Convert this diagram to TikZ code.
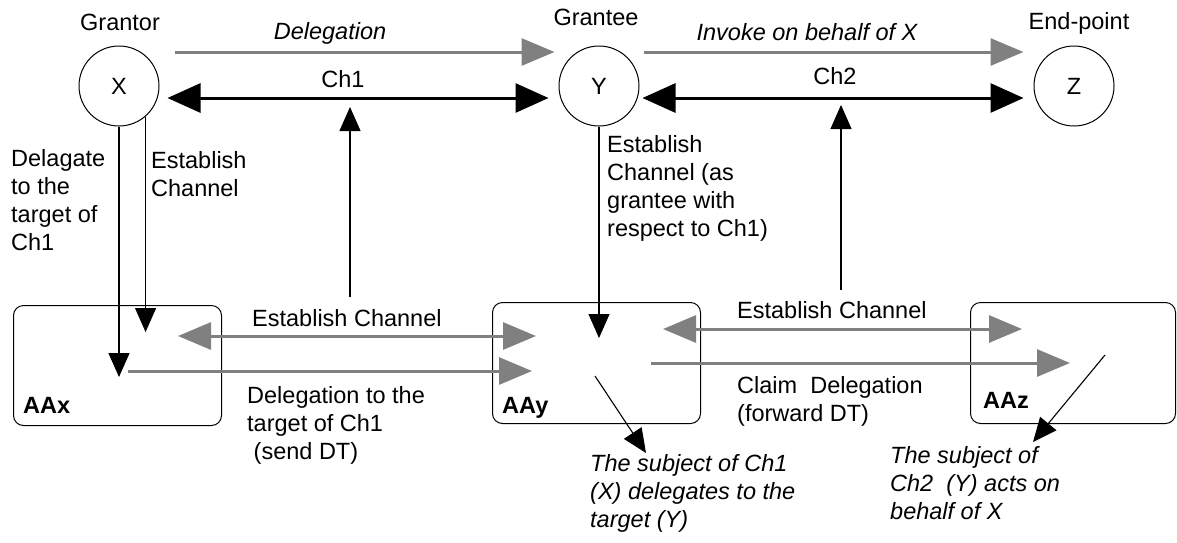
\documentclass[tikz,border=0pt]{standalone}
\usepackage{fontspec}
\setmainfont{Liberation Sans}
\usetikzlibrary{arrows.meta}
\definecolor{flowgray}{RGB}{128,128,128}

\tikzset{
  every node/.style={font=\fontsize{23.5}{28}\selectfont, inner sep=0pt},
  party/.style={circle, draw, line width=1pt, minimum size=80pt},
  aabox/.style={draw, line width=1pt, rounded corners=10pt, anchor=north west},
  txt/.style={anchor=base west, align=left},
  ctxt/.style={anchor=base},
  itxt/.style={font=\fontsize{23.5}{28}\selectfont\itshape},
  btxt/.style={font=\fontsize{23.5}{28}\selectfont\bfseries},
  grayflow/.style={draw=flowgray, line width=3pt, -{Triangle[length=33pt,width=27pt]}},
  graytwo/.style={draw=flowgray, line width=3pt, {Triangle[length=33pt,width=27pt]}-{Triangle[length=33pt,width=27pt]}},
  chanline/.style={draw=black, line width=3pt, {Triangle[length=33pt,width=29pt]}-{Triangle[length=33pt,width=29pt]}},
  thinflow/.style={draw=black, line width=1.1pt, -{Triangle[length=24pt,width=21pt]}}
}

\begin{document}
\begin{tikzpicture}[x=1pt, y=-1pt]
  \useasboundingbox (0,0) rectangle (1177,542);

  % parties
  \node[party] (X) at (119,86) {X};
  \node[party] (Y) at (599,86) {Y};
  \node[party] (Z) at (1074,86) {Z};
  \node[ctxt] (grantor) at (120,30) {Grantor};
  \node[ctxt] (grantee) at (596,25) {Grantee};
  \node[ctxt] (endpoint) at (1079,29) {End-point};

  % authorization agents
  \node[aabox, minimum width=208pt, minimum height=120pt] (AAx) at (13,305) {};
  \node[aabox, minimum width=208pt, minimum height=121pt] (AAy) at (492,302) {};
  \node[aabox, minimum width=205pt, minimum height=121pt] (AAz) at (970,302) {};
  \node[txt, btxt] (lx) at (23,413) {AAx};
  \node[txt, btxt] (ly) at (502,413) {AAy};
  \node[txt, btxt] (lz) at (983,408) {AAz};

  % top level flows
  \draw[grayflow] ([shift={(15,-34)}]X.east) -- ([shift={(-4,-34)}]Y.west);
  \draw[grayflow] ([shift={(4,-34)}]Y.east) -- ([shift={(-10,-34)}]Z.west);
  \draw[chanline] ([shift={(8,12)}]X.east) -- ([shift={(-10,12)}]Y.west);
  \draw[chanline] ([shift={(3,12)}]Y.east) -- ([shift={(-10,12)}]Z.west);
  \node[ctxt, itxt] (tdel) at (330,39) {Delegation};
  \node[ctxt, itxt] (tinv) at (807,40) {Invoke on behalf of X};
  \node[ctxt] (tch1) at (343,87) {Ch1};
  \node[ctxt] (tch2) at (835,84) {Ch2};

  % channel establishment feeding the channels
  \coordinate (e1) at (350,297);
  \coordinate (c1) at (350,107);
  \coordinate (e2) at (841,290);
  \coordinate (c2) at (841,105);
  \draw[thinflow] (e1) -- (c1);
  \draw[thinflow] (e2) -- (c2);

  % grantor to its agent (multi-line texts are placed by their last baseline)
  \coordinate (xd) at (119,377);
  \coordinate (xe) at (145,332);
  \draw[thinflow] (X.south) -- (xd);
  \draw[thinflow] (X.-49.5) -- (X.-49.5 |- xe);
  \node[txt] (tdelag) at (11,250) {Delagate\\to the\\target of\\Ch1};
  \node[txt] (testx) at (151,196) {Establish\\Channel};

  % grantee to its agent
  \coordinate (yd) at (599,338);
  \draw[thinflow] (Y.south) -- (yd);
  \node[txt] (testy) at (607,236) {Establish\\Channel (as\\grantee with\\respect to Ch1)};

  % agent to agent flows
  \coordinate (a1) at (178,336);
  \coordinate (a2) at (536,336);
  \coordinate (a3) at (128,371);
  \coordinate (a4) at (532,371);
  \draw[graytwo] (a1) -- (a2);
  \draw[grayflow] (a3) -- (a4);
  \node[txt] (test1) at (252,326) {Establish Channel};
  \node[txt] (tdt) at (247,459) {Delegation to the\\target of Ch1\\\ (send DT)};

  \coordinate (b1) at (663,329);
  \coordinate (b2) at (1022,329);
  \coordinate (b3) at (651,363);
  \coordinate (b4) at (1070,363);
  \draw[graytwo] (b1) -- (b2);
  \draw[grayflow] (b3) -- (b4);
  \node[txt] (test2) at (737,318) {Establish Channel};
  \node[txt] (tclaim) at (737,421) {Claim\ \ Delegation\\(forward DT)};

  % outcomes
  \coordinate (dy1) at (595,376);
  \coordinate (dy2) at (646,453);
  \coordinate (dz1) at (1105,355);
  \coordinate (dz2) at (1033,442);
  \draw[thinflow] (dy1) -- (dy2);
  \draw[thinflow] (dz1) -- (dz2);
  \node[txt, itxt] (tsub1) at (590,527) {The subject of Ch1\\(X) delegates to the\\target (Y)};
  \node[txt, itxt] (tsub2) at (890,519) {The subject of\\Ch2\ \ (Y) acts on\\behalf of X};
\end{tikzpicture}
\end{document}
